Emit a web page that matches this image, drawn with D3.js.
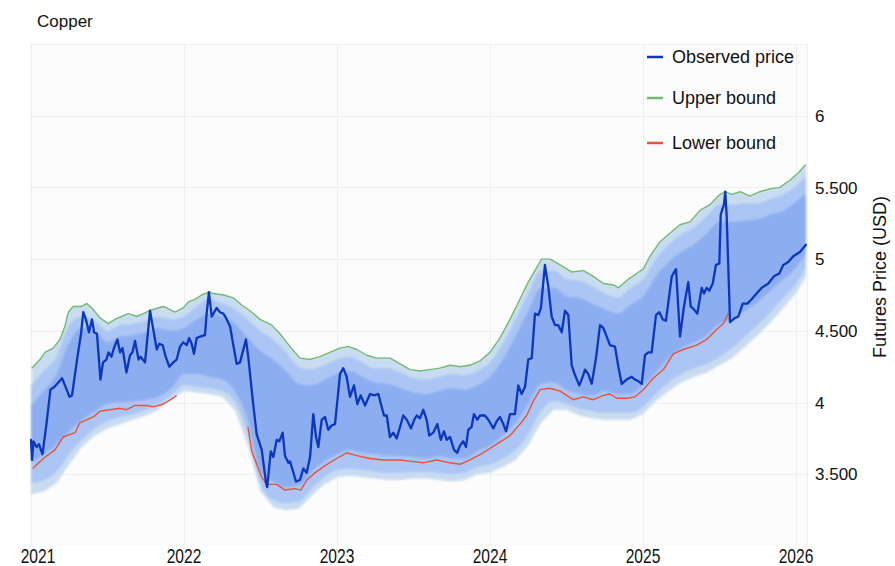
<!DOCTYPE html>
<html>
<head>
<meta charset="utf-8">
<script src="https://cdn.jsdelivr.net/npm/d3@7"></script>
<style>
  body { margin: 0; background: #ffffff; }
  svg { display: block; font-family: "Liberation Sans", Arial, Helvetica, sans-serif; }
</style>
</head>
<body>
<svg id="chart" width="895" height="566"></svg>
<script>
// ---- Labels --------------------------------------------------------------
const chartTitle = "Copper";
const yAxisTitle = "Futures Price (USD)";
const yearTicks = [2021, 2022, 2023, 2024, 2025, 2026];
const priceTicks = [3.5, 4, 4.5, 5, 5.5, 6];
const priceTickLabels = ["3.500", "4", "4.500", "5", "5.500", "6"];
const legendLabels = ["Observed price", "Upper bound", "Lower bound"];

// ---- Observed weekly futures price (time in decimal years) ---------------
const priceYear = [
  2021.000, 2021.007, 2021.016, 2021.036, 2021.052, 2021.075, 2021.101, 2021.127, 2021.154, 2021.203,
  2021.252, 2021.268, 2021.301, 2021.327, 2021.342, 2021.359, 2021.379, 2021.399, 2021.412, 2021.431,
  2021.454, 2021.471, 2021.493, 2021.507, 2021.526, 2021.542, 2021.565, 2021.582, 2021.598, 2021.624,
  2021.647, 2021.663, 2021.680, 2021.703, 2021.716, 2021.745, 2021.778, 2021.799, 2021.822, 2021.839,
  2021.861, 2021.880, 2021.904, 2021.930, 2021.952, 2021.974, 2021.995, 2022.018, 2022.033, 2022.050,
  2022.065, 2022.083, 2022.105, 2022.137, 2022.148, 2022.163, 2022.181, 2022.192, 2022.214, 2022.235,
  2022.257, 2022.275, 2022.301, 2022.344, 2022.366, 2022.405, 2022.420, 2022.449, 2022.475, 2022.508,
  2022.536, 2022.544, 2022.567, 2022.584, 2022.606, 2022.623, 2022.645, 2022.660, 2022.682, 2022.693,
  2022.710, 2022.732, 2022.758, 2022.780, 2022.802, 2022.824, 2022.845, 2022.863, 2022.878, 2022.900,
  2022.922, 2022.943, 2022.965, 2022.987, 2023.020, 2023.041, 2023.063, 2023.085, 2023.111, 2023.133,
  2023.155, 2023.183, 2023.216, 2023.242, 2023.270, 2023.307, 2023.325, 2023.346, 2023.368, 2023.390,
  2023.412, 2023.433, 2023.456, 2023.484, 2023.505, 2023.521, 2023.542, 2023.564, 2023.586, 2023.603,
  2023.629, 2023.656, 2023.678, 2023.699, 2023.717, 2023.739, 2023.765, 2023.786, 2023.804, 2023.825,
  2023.843, 2023.858, 2023.880, 2023.895, 2023.917, 2023.935, 2023.967, 2023.989, 2024.022, 2024.044,
  2024.065, 2024.087, 2024.105, 2024.131, 2024.163, 2024.185, 2024.207, 2024.229, 2024.250, 2024.273,
  2024.294, 2024.316, 2024.333, 2024.359, 2024.381, 2024.403, 2024.425, 2024.446, 2024.469, 2024.490,
  2024.512, 2024.534, 2024.556, 2024.584, 2024.606, 2024.621, 2024.642, 2024.665, 2024.693, 2024.719,
  2024.741, 2024.763, 2024.784, 2024.817, 2024.839, 2024.861, 2024.893, 2024.926, 2024.948, 2024.969,
  2024.992, 2025.013, 2025.035, 2025.057, 2025.085, 2025.107, 2025.129, 2025.150, 2025.188, 2025.216,
  2025.242, 2025.268, 2025.296, 2025.312, 2025.333, 2025.355, 2025.384, 2025.399, 2025.416, 2025.433,
  2025.456, 2025.477, 2025.499, 2025.508, 2025.529, 2025.538, 2025.547, 2025.569, 2025.601, 2025.623,
  2025.652, 2025.682, 2025.710, 2025.743, 2025.776, 2025.819, 2025.856, 2025.891, 2025.917, 2025.950,
  2025.982, 2026.026, 2026.065
];
const priceValue = [
  3.74, 3.60, 3.73, 3.69, 3.71, 3.64, 3.85, 4.09, 4.11, 4.17,
  4.04, 4.05, 4.30, 4.48, 4.63, 4.58, 4.49, 4.58, 4.49, 4.48,
  4.16, 4.28, 4.30, 4.35, 4.32, 4.38, 4.44, 4.35, 4.38, 4.21,
  4.33, 4.35, 4.43, 4.30, 4.32, 4.28, 4.64, 4.51, 4.37, 4.41,
  4.40, 4.32, 4.25, 4.28, 4.30, 4.39, 4.42, 4.40, 4.45, 4.41,
  4.34, 4.45, 4.46, 4.47, 4.62, 4.77, 4.60, 4.62, 4.66, 4.63,
  4.62, 4.59, 4.53, 4.27, 4.28, 4.44, 4.32, 4.02, 3.78, 3.67,
  3.44, 3.41, 3.66, 3.62, 3.74, 3.73, 3.79, 3.63, 3.58, 3.59,
  3.53, 3.45, 3.46, 3.54, 3.51, 3.62, 3.92, 3.76, 3.69, 3.88,
  3.90, 3.81, 3.84, 3.85, 4.20, 4.24, 4.18, 4.04, 4.12, 3.99,
  4.05, 3.98, 4.06, 4.05, 4.06, 3.91, 3.91, 3.76, 3.79, 3.75,
  3.83, 3.91, 3.88, 3.82, 3.88, 3.91, 3.89, 3.95, 3.88, 3.77,
  3.79, 3.85, 3.74, 3.80, 3.74, 3.76, 3.67, 3.65, 3.70, 3.73,
  3.69, 3.81, 3.83, 3.92, 3.88, 3.91, 3.91, 3.88, 3.82, 3.87,
  3.90, 3.85, 3.80, 3.92, 3.92, 4.12, 4.06, 4.11, 4.30, 4.31,
  4.62, 4.61, 4.66, 4.96, 4.81, 4.60, 4.54, 4.54, 4.49, 4.64,
  4.61, 4.26, 4.19, 4.12, 4.18, 4.23, 4.20, 4.13, 4.31, 4.54,
  4.52, 4.46, 4.40, 4.39, 4.25, 4.13, 4.16, 4.18, 4.16, 4.15,
  4.13, 4.33, 4.35, 4.35, 4.61, 4.63, 4.58, 4.57, 4.88, 4.93,
  4.46, 4.67, 4.84, 4.67, 4.65, 4.62, 4.80, 4.76, 4.80, 4.78,
  4.83, 4.96, 4.97, 5.31, 5.38, 5.47, 5.30, 4.56, 4.59, 4.60,
  4.69, 4.69, 4.72, 4.76, 4.80, 4.83, 4.88, 4.90, 4.96, 4.98,
  5.02, 5.05, 5.10
];

// ---- Upper bound ---------------------------------------------------------
const upperYear = [
  2021.005, 2021.059, 2021.092, 2021.146, 2021.190, 2021.222, 2021.244, 2021.276, 2021.331, 2021.364,
  2021.397, 2021.451, 2021.505, 2021.549, 2021.593, 2021.636, 2021.691, 2021.734, 2021.773, 2021.865,
  2021.941, 2021.995, 2022.028, 2022.072, 2022.116, 2022.163, 2022.192, 2022.257, 2022.322, 2022.377,
  2022.431, 2022.497, 2022.573, 2022.627, 2022.693, 2022.758, 2022.824, 2022.889, 2022.954, 2023.020,
  2023.074, 2023.129, 2023.194, 2023.259, 2023.346, 2023.412, 2023.477, 2023.542, 2023.608, 2023.673,
  2023.739, 2023.804, 2023.869, 2023.935, 2024.000, 2024.065, 2024.131, 2024.196, 2024.250, 2024.294,
  2024.338, 2024.359, 2024.392, 2024.458, 2024.534, 2024.610, 2024.675, 2024.741, 2024.806, 2024.839,
  2024.893, 2024.958, 2025.002, 2025.046, 2025.111, 2025.176, 2025.242, 2025.307, 2025.373, 2025.438,
  2025.503, 2025.538, 2025.580, 2025.634, 2025.699, 2025.765, 2025.830, 2025.895, 2025.961, 2026.015,
  2026.065
];
const upperValue = [
  4.24, 4.30, 4.35, 4.38, 4.44, 4.53, 4.63, 4.67, 4.67, 4.69,
  4.66, 4.59, 4.55, 4.58, 4.60, 4.62, 4.60, 4.62, 4.64, 4.67,
  4.63, 4.66, 4.70, 4.72, 4.75, 4.77, 4.76, 4.75, 4.73, 4.68,
  4.64, 4.58, 4.54, 4.48, 4.39, 4.31, 4.30, 4.32, 4.35, 4.38,
  4.39, 4.37, 4.33, 4.31, 4.31, 4.27, 4.23, 4.22, 4.23, 4.24,
  4.26, 4.25, 4.26, 4.29, 4.35, 4.45, 4.58, 4.72, 4.84, 4.92,
  5.00, 5.00, 5.00, 4.96, 4.91, 4.92, 4.88, 4.83, 4.82, 4.80,
  4.85, 4.90, 4.93, 5.02, 5.12, 5.18, 5.24, 5.26, 5.34, 5.38,
  5.45, 5.47, 5.45, 5.47, 5.44, 5.47, 5.49, 5.50, 5.55, 5.60,
  5.66
];

// ---- Lower bound (null marks a break in the line) ------------------------
const lowerYear = [
  2021.011, 2021.080, 2021.157, 2021.211, 2021.288, 2021.320, 2021.364, 2021.407, 2021.451, 2021.516,
  2021.582, 2021.625, 2021.680, 2021.756, 2021.799, 2021.865, 2021.941, 2021.951,
  2022.200,
  2022.418, 2022.443, 2022.508, 2022.541, 2022.606, 2022.660, 2022.725, 2022.763, 2022.802, 2022.856,
  2022.922, 2022.998, 2023.063, 2023.129, 2023.216, 2023.303, 2023.412, 2023.488, 2023.564, 2023.652,
  2023.739, 2023.804, 2023.869, 2023.956, 2024.044, 2024.131, 2024.196, 2024.240, 2024.283, 2024.327,
  2024.392, 2024.458, 2024.544, 2024.610, 2024.675, 2024.741, 2024.784, 2024.828, 2024.893, 2024.948,
  2025.002, 2025.067, 2025.133, 2025.198, 2025.263, 2025.351, 2025.416, 2025.492, 2025.525, 2025.557
];
const lowerValue = [
  3.54, 3.61, 3.67, 3.76, 3.79, 3.86, 3.88, 3.90, 3.94, 3.95,
  3.96, 3.95, 3.98, 3.98, 3.97, 3.99, 4.04, 4.05,
  null,
  3.83, 3.66, 3.48, 3.43, 3.43, 3.39, 3.40, 3.39, 3.46, 3.51,
  3.56, 3.61, 3.65, 3.63, 3.61, 3.60, 3.60, 3.59, 3.58, 3.60,
  3.58, 3.57, 3.60, 3.65, 3.71, 3.77, 3.85, 3.91, 4.01, 4.09,
  4.10, 4.08, 4.02, 4.04, 4.02, 4.05, 4.06, 4.03, 4.03, 4.04,
  4.09, 4.17, 4.23, 4.34, 4.37, 4.40, 4.44, 4.52, 4.55, 4.62
];

// ---- Forecast fan (monthly quantile bands) -------------------------------
const fanYear = [
  2021.000, 2021.083, 2021.167, 2021.250, 2021.333, 2021.417, 2021.500, 2021.583, 2021.667, 2021.750, 2021.833, 2021.917,
  2022.000, 2022.083, 2022.167, 2022.250, 2022.333, 2022.417, 2022.500, 2022.583, 2022.667, 2022.750, 2022.833, 2022.917,
  2023.000, 2023.083, 2023.167, 2023.250, 2023.333, 2023.417, 2023.500, 2023.583, 2023.667, 2023.750, 2023.833, 2023.917,
  2024.000, 2024.083, 2024.167, 2024.250, 2024.333, 2024.417, 2024.500, 2024.583, 2024.667, 2024.750, 2024.833, 2024.917,
  2025.000, 2025.083, 2025.167, 2025.250, 2025.333, 2025.417, 2025.500, 2025.583, 2025.667, 2025.750, 2025.833, 2025.917,
  2026.000, 2026.065
];
const fanFloor = [
  3.36, 3.38, 3.44, 3.57, 3.69, 3.77, 3.82, 3.85, 3.88, 3.91, 3.95, 4.02,
  4.08, 4.07, 4.06, 4.04, 3.95, 3.70, 3.38, 3.27, 3.25, 3.26, 3.35, 3.43,
  3.48, 3.49, 3.48, 3.47, 3.46, 3.46, 3.47, 3.47, 3.46, 3.45, 3.46, 3.50,
  3.51, 3.55, 3.60, 3.70, 3.86, 3.95, 3.95, 3.91, 3.89, 3.88, 3.88, 3.88,
  3.92, 4.01, 4.08, 4.14, 4.18, 4.21, 4.26, 4.31, 4.39, 4.47, 4.56, 4.66,
  4.76, 4.88
];
const fanMidHigh = [
  4.12, 4.22, 4.32, 4.54, 4.60, 4.57, 4.50, 4.54, 4.55, 4.57, 4.60, 4.58,
  4.60, 4.67, 4.72, 4.69, 4.65, 4.58, 4.50, 4.44, 4.35, 4.25, 4.23, 4.26,
  4.30, 4.32, 4.28, 4.24, 4.24, 4.21, 4.17, 4.16, 4.18, 4.20, 4.19, 4.22,
  4.28, 4.41, 4.58, 4.76, 4.92, 4.92, 4.86, 4.85, 4.81, 4.76, 4.73, 4.80,
  4.86, 5.00, 5.10, 5.17, 5.22, 5.30, 5.38, 5.38, 5.39, 5.39, 5.42, 5.45,
  5.51, 5.58
];
const fanMidLow = [
  3.44, 3.46, 3.52, 3.64, 3.74, 3.82, 3.87, 3.90, 3.92, 3.95, 3.99, 4.05,
  4.12, 4.11, 4.10, 4.08, 4.01, 3.78, 3.43, 3.32, 3.30, 3.31, 3.40, 3.48,
  3.53, 3.54, 3.53, 3.52, 3.51, 3.51, 3.52, 3.52, 3.51, 3.50, 3.51, 3.55,
  3.57, 3.61, 3.67, 3.78, 3.94, 4.01, 3.99, 3.96, 3.94, 3.93, 3.93, 3.93,
  3.97, 4.06, 4.14, 4.20, 4.24, 4.27, 4.32, 4.38, 4.46, 4.54, 4.63, 4.73,
  4.83, 4.94
];
const fanCoreHigh = [
  3.98, 4.08, 4.20, 4.42, 4.52, 4.50, 4.42, 4.46, 4.47, 4.49, 4.52, 4.50,
  4.52, 4.58, 4.62, 4.60, 4.55, 4.45, 4.36, 4.30, 4.22, 4.13, 4.12, 4.16,
  4.20, 4.22, 4.18, 4.14, 4.13, 4.10, 4.07, 4.06, 4.08, 4.10, 4.09, 4.12,
  4.18, 4.30, 4.46, 4.64, 4.80, 4.80, 4.74, 4.73, 4.69, 4.65, 4.62, 4.68,
  4.74, 4.88, 4.98, 5.05, 5.10, 5.18, 5.26, 5.26, 5.27, 5.28, 5.31, 5.34,
  5.40, 5.46
];
const fanCoreLow = [
  3.58, 3.64, 3.71, 3.80, 3.88, 3.94, 3.99, 4.00, 4.01, 4.02, 4.04, 4.10,
  4.20, 4.20, 4.18, 4.16, 4.08, 3.88, 3.52, 3.45, 3.41, 3.42, 3.52, 3.59,
  3.64, 3.67, 3.65, 3.64, 3.63, 3.63, 3.62, 3.61, 3.63, 3.61, 3.61, 3.66,
  3.70, 3.77, 3.86, 3.99, 4.13, 4.14, 4.09, 4.06, 4.05, 4.08, 4.06, 4.06,
  4.12, 4.21, 4.31, 4.38, 4.42, 4.47, 4.55, 4.58, 4.64, 4.70, 4.78, 4.86,
  4.94, 5.04
];

// ---- Layout ----------------------------------------------------------------
const W = 895, H = 566;
const plot = { left: 30, right: 807, top: 44, bottom: 546 };
const colors = {
  price: "#0b37bd", upper: "#72ba70", lower: "#e8513b",
  fanOuter: "#c8dbf1", fanMid: "#abc6f4", fanCore: "#8cadf0",
  grid: "#efeff2", plotBg: "#fcfcfd", text: "#111111"
};

const svg = d3.select("#chart");
svg.append("rect").attr("width", W).attr("height", H).attr("fill", "#ffffff");

const x = d3.scaleLinear().domain([2021, 2026.072]).range([31, plot.right]);
const y = d3.scaleLinear().domain([3, 6.5]).range([plot.bottom, plot.top]);

// Plot background and grid
svg.append("rect")
  .attr("x", plot.left).attr("y", plot.top)
  .attr("width", plot.right - plot.left).attr("height", plot.bottom - plot.top)
  .attr("fill", colors.plotBg);

const grid = svg.append("g").attr("stroke", colors.grid).attr("stroke-width", 1);
grid.selectAll("line.h").data([...priceTicks, 6.5]).join("line")
  .attr("x1", plot.left).attr("x2", plot.right)
  .attr("y1", d => Math.round(y(d)) + 0.5).attr("y2", d => Math.round(y(d)) + 0.5);
grid.selectAll("line.v").data(yearTicks).join("line")
  .attr("y1", plot.top).attr("y2", plot.bottom)
  .attr("x1", d => Math.round(x(d)) + 0.5).attr("x2", d => Math.round(x(d)) + 0.5);
grid.append("line").attr("x1", plot.right + 0.5).attr("x2", plot.right + 0.5)
  .attr("y1", plot.top).attr("y2", plot.bottom);

// Clip to plot area
svg.append("defs").append("clipPath").attr("id", "plotClip")
  .append("rect").attr("x", plot.left).attr("y", plot.top)
  .attr("width", plot.right - plot.left).attr("height", plot.bottom - plot.top);
const soft = svg.select("defs").append("filter").attr("id", "soft")
  .attr("x", "-5%").attr("y", "-5%").attr("width", "110%").attr("height", "110%");
soft.append("feGaussianBlur").attr("stdDeviation", 1.3);

const g = svg.append("g").attr("clip-path", "url(#plotClip)");

// Fan: outer band runs from the upper bound down to the fan floor
const fan = g.append("g").attr("filter", "url(#soft)");
const outerTop = upperYear.map((t, i) => [x(t), y(upperValue[i])]);
const outerBottom = fanYear.map((t, i) => [x(t), y(fanFloor[i])]).reverse();
fan.append("path")
  .attr("d", d3.line()(outerTop.concat(outerBottom)) + "Z")
  .attr("fill", colors.fanOuter);

const band = (lo, hi) => d3.area()
  .x((d, i) => x(fanYear[i]))
  .y0((d, i) => y(lo[i]))
  .y1((d, i) => y(hi[i]))
  .curve(d3.curveMonotoneX)(fanYear);

fan.append("path").attr("d", band(fanMidLow, fanMidHigh)).attr("fill", colors.fanMid);
fan.append("path").attr("d", band(fanCoreLow, fanCoreHigh)).attr("fill", colors.fanCore);

// Bounds
g.append("path")
  .attr("d", d3.line().x((t) => x(t)).y((t, i) => y(upperValue[i]))(upperYear))
  .attr("fill", "none").attr("stroke", colors.upper).attr("stroke-width", 1.4)
  .attr("stroke-linejoin", "round");

g.append("path")
  .attr("d", d3.line()
    .defined((t, i) => lowerValue[i] !== null)
    .x((t) => x(t)).y((t, i) => y(lowerValue[i]))(lowerYear))
  .attr("fill", "none").attr("stroke", colors.lower).attr("stroke-width", 1.4)
  .attr("stroke-linejoin", "round");

// Observed price
g.append("path")
  .attr("d", d3.line().x((t) => x(t)).y((t, i) => y(priceValue[i]))(priceYear))
  .attr("fill", "none").attr("stroke", colors.price).attr("stroke-width", 2.3)
  .attr("stroke-linejoin", "round").attr("stroke-linecap", "round");

// Title
svg.append("text").attr("x", 37).attr("y", 27)
  .attr("font-size", 17).attr("fill", colors.text).text(chartTitle);

// Y tick labels (right side)
svg.append("g").selectAll("text").data(priceTicks).join("text")
  .attr("x", 815).attr("y", d => y(d)).attr("dy", "0.36em")
  .attr("font-size", 17).attr("fill", colors.text)
  .text((d, i) => priceTickLabels[i]);

// Y axis title
svg.append("text")
  .attr("transform", "translate(886,277) rotate(-90)")
  .attr("text-anchor", "middle")
  .attr("font-size", 18).attr("fill", colors.text)
  .text(yAxisTitle);

// X tick labels, set in a condensed face
svg.append("g").selectAll("text").data(yearTicks).join("text")
  .attr("transform", d => `translate(${Math.max(x(d), 38)},563) scale(0.78,1)`)
  .attr("text-anchor", "middle")
  .attr("font-size", 20).attr("fill", colors.text)
  .text(d => d3.format("d")(d));

// Legend
const legendColors = [colors.price, colors.upper, colors.lower];
const legendY = [57, 98, 143];
const legend = svg.append("g");
legendLabels.forEach((label, i) => {
  legend.append("line")
    .attr("x1", 647).attr("x2", 663)
    .attr("y1", legendY[i]).attr("y2", legendY[i])
    .attr("stroke", legendColors[i]).attr("stroke-width", 2.5);
  legend.append("text")
    .attr("x", 672).attr("y", legendY[i]).attr("dy", "0.36em")
    .attr("font-size", 18).attr("fill", colors.text)
    .text(label);
});
</script>
</body>
</html>
